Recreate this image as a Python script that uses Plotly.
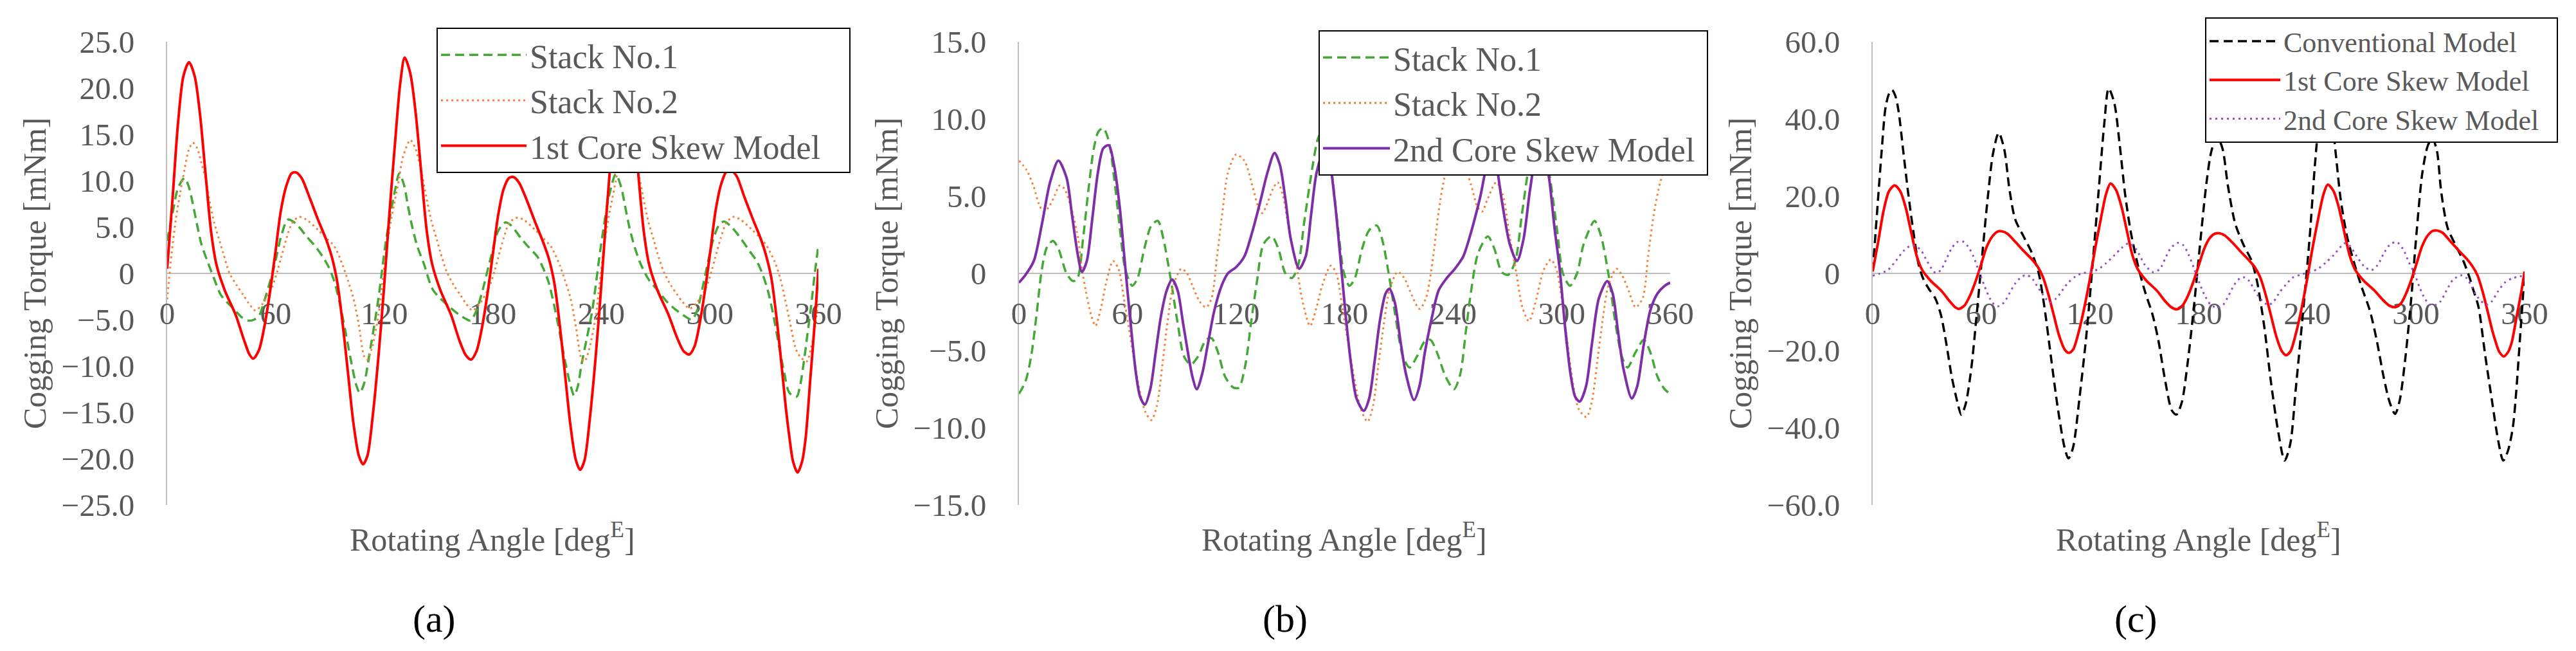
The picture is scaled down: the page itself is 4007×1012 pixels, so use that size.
import plotly.graph_objects as go

# ---------------- data ----------------
x_tickvals = [0, 60, 120, 180, 240, 300, 360]
x_ticktext = ["0", "60", "120", "180", "240", "300", "360"]

ya_tickvals = [-25, -20, -15, -10, -5, 0, 5, 10, 15, 20, 25]
ya_ticktext = ["\u221225.0", "\u221220.0", "\u221215.0", "\u221210.0", "\u22125.0", "0",
               "5.0", "10.0", "15.0", "20.0", "25.0"]
yb_tickvals = [-15, -10, -5, 0, 5, 10, 15]
yb_ticktext = ["\u221215.0", "\u221210.0", "\u22125.0", "0", "5.0", "10.0", "15.0"]
yc_tickvals = [-60, -40, -20, 0, 20, 40, 60]
yc_ticktext = ["\u221260.0", "\u221240.0", "\u221220.0", "0", "20.0", "40.0", "60.0"]

# (angle [degE], torque [mNm]) pairs
stack1_a = [(0,3.5),(3,6.5),(6,9.2),(9.6,10.3),(11.9,9.4),(14.2,7.5),(16.6,5.2),(19,3.1),(22.5,1.2),(26,-0.6),
            (29.6,-2.3),(33,-3.1),(36.7,-3.8),(41,-4.7),(45,-5.1),(48,-5.0),(51,-4.5),(54,-2.8),(56,-1.5),(59.5,1.0),
            (63,4.0),(66.7,5.8),(71,5.4),(77,4.0),(82,2.9),(86,1.8),(89,0.8),(92.5,-0.9),(95.5,-3.3),(98.6,-6.3),
            (101.5,-9.3),(104.6,-12.1),(106.5,-12.9),(109,-11.8),(112,-8.5),(114.5,-5.6),(116.8,-2.7),(121,3.6),(124,7.0),(126,9.0),
            (128.3,10.8),(131,9.5),(133,7.4),(135.5,5.0),(138.5,2.8),(142,1.0),(147,-1.8),(156,-3.6),(161,-4.4),(165,-4.9),
            (167.7,-5.1),(171,-4.0),(174.4,-1.8),(179,1.8),(183,4.6),(187,5.5),(190,5.2),(195.6,3.8),(200,2.8),(204.7,1.8),
            (208,0.5),(210.8,-0.9),(214,-3.5),(216.9,-6.3),(220,-9.5),(223,-12.1),(225,-13.2),(227,-12.2),(229,-9.9),(232,-7.0),
            (235,-4.0),(239.6,2.7),(244,8.1),(248,10.7),(251,9.3),(253,7.4),(255.5,5.0),(258.5,2.8),(262,0.9),(266,-0.6),
            (271,-1.8),(276,-3.0),(281,-3.9),(286,-4.6),(290,-5.0),(293,-4.0),(295.7,-1.8),(298.5,0.8),(301.8,3.6),(305,5.2),
            (307.8,5.6),(312,5.0),(317,3.8),(322,2.4),(326,1.3),(329,0.0),(332,-1.8),(335,-4.4),(338,-7.6),(341,-10.6),
            (344,-12.9),(348,-13.3),(350,-12.0),(352,-9.5),(354,-6.5),(356,-3.5),(358,0.0),(360,3.0)]

stack2_a = [(0,-2.8),(2.4,2.0),(4.7,5.7),(7.2,8.7),(9.6,11.2),(11.9,13.3),(14.2,14.1),(16.6,13.5),(19,11.9),(21.4,10.1),
            (23.8,7.5),(26.1,5.4),(28.5,3.8),(31,2.2),(34.5,0.0),(38.5,-1.3),(42,-2.3),(45,-3.2),(48.8,-4.0),(52.7,-3.3),
            (55.5,-2.4),(58,-1.5),(61,0.3),(63,1.7),(66,3.8),(69,5.4),(72.8,6.1),(77,5.8),(83.4,4.7),(88,3.8),
            (92.5,2.9),(97,0.9),(100,-0.8),(103,-2.7),(106,-5.6),(109,-9.0),(110.7,-9.3),(113,-8.2),(116.8,-4.5),(119,-1.0),
            (121.3,2.7),(124,6.0),(126,8.0),(128,10.0),(130.4,12.6),(134.4,14.4),(137,13.6),(140,11.5),(143,8.5),(146,5.7),
            (149,3.7),(151,2.3),(154.5,0.2),(158.5,-1.3),(162,-2.3),(165,-3.2),(168.8,-4.0),(172.7,-3.3),(178,-1.5),(181,0.3),
            (183,1.7),(186,3.8),(189,5.4),(192.8,6.0),(197,5.8),(203.4,4.7),(208,3.8),(212.5,2.8),(217,0.9),(220,-0.8),
            (223,-2.7),(226,-5.8),(229,-9.2),(230.7,-9.5),(233,-8.4),(236.8,-4.8),(239,-1.2),(241.3,2.6),(244,6.0),(246,8.0),
            (248,10.0),(250.4,12.5),(254.4,14.3),(257,13.5),(260,11.4),(263,8.4),(266,5.6),(269,3.6),(271,2.2),(274.5,0.2),
            (278.5,-1.3),(282,-2.3),(285,-3.1),(288.8,-3.8),(292.7,-3.2),(298,-1.5),(301,0.3),(303,1.7),(306,3.8),(309,5.4),
            (312.8,6.1),(317,5.8),(323.4,4.7),(328,3.8),(331,3.1),(336,1.2),(339,-0.6),(341.7,-2.9),(344,-5.0),(347.6,-8.2),
            (350,-9.0),(353.5,-9.5),(356,-8.0),(358,-6.0),(360,-3.0)]

skew1 = [(0,0.5),(3,8.1),(6,16.2),(9,21.3),(12.1,22.8),(15.2,21.3),(18.2,17.1),(21.2,10.8),(24.3,4.5),(27.3,0.9),
         (31.8,-1.8),(37.9,-4.5),(42.5,-7.2),(45.5,-8.75),(47.6,-9.2),(50.7,-8.3),(53.7,-5.8),(56.7,-2.2),(59.8,2.2),(62.8,6.7),
         (65.8,9.4),(68.8,10.8),(71.3,10.9),(74.3,10.3),(78.9,8.1),(83.4,5.8),(88,3.6),(91,1.8),(94,-0.9),(97,-5.4),
         (100,-10.8),(103,-16.2),(106,-19.7),(108.3,-20.6),(110.7,-19.7),(113.7,-15.3),(116.8,-9.0),(119.8,-1.8),(122.8,6.3),(125.9,13.9),
         (128.9,20.6),(131.3,23.3),(134.4,21.6),(137.4,17.3),(140.4,11.0),(143.5,4.6),(146.5,1.0),(151,-1.8),(157,-4.5),(161.5,-7.2),
         (165,-8.8),(168,-9.3),(171,-8.4),(174,-5.9),(177,-2.3),(180,2.0),(183,6.3),(186,9.1),(189,10.3),(191.5,10.4),
         (194.5,9.8),(199,7.8),(203.5,5.5),(208,3.3),(211,1.6),(214,-1.0),(217,-5.5),(220,-11.0),(223,-16.5),(226,-20.2),
         (228.3,-21.2),(230.7,-20.2),(233.7,-15.6),(236.8,-9.2),(239.8,-1.8),(242.8,6.3),(245.9,13.9),(248.9,20.4),(251.3,23.0),(254.4,21.4),
         (257.4,17.1),(260.4,10.8),(263.5,4.5),(266.5,0.9),(271,-1.8),(277,-4.4),(282,-7.0),(285.5,-8.4),(288.6,-8.75),(291.5,-7.9),
         (294.3,-5.5),(297.2,-2.0),(300.2,2.3),(303.2,6.8),(306.2,9.6),(309.2,11.0),(311.8,11.1),(314.8,10.5),(319,8.3),(323.5,6.0),
         (328,3.8),(331,2.0),(334,-0.5),(337,-5.0),(340,-10.6),(342,-14.5),(344,-17.7),(346,-20.3),(348.5,-21.5),(351,-20.3),
         (353,-17.7),(355.5,-11.5),(358.3,-4.5),(360,0.5)]

stack1_b = [(0,-7.8),(3.6,-7.0),(6.7,-5.4),(9.7,-2.7),(12.7,0.3),(15.5,1.7),(18.8,2.1),(21.8,1.6),(26.3,0.0),(29.9,-0.5),
            (32.4,-0.3),(35.4,2.2),(38.4,5.4),(41.4,8.1),(44,9.2),(46.6,9.4),(49.6,8.6),(52.6,6.2),(55.7,3.0),(58.7,0.3),
            (62.6,-0.8),(65.6,-0.3),(69.3,1.6),(73.2,3.1),(76.8,3.4),(79.9,2.2),(83.8,-0.3),(87.7,-3.2),(91.3,-5.4),(95,-5.9),
            (98.9,-5.4),(103.4,-4.3),(106.5,-4.2),(110,-5.1),(114,-6.7),(118.6,-7.4),(121.6,-7.4),(125.2,-5.9),(128.3,-3.2),(131.6,-0.5),
            (135.2,1.9),(139.7,2.4),(143.4,1.6),(147.3,0.0),(150.9,-0.3),(154.3,0.5),(157.9,3.5),(162.4,7.0),(165.5,8.8),(168.5,9.3),
            (171,8.4),(173.6,5.9),(176.6,2.7),(179.7,0.0),(182.7,-0.8),(185.7,-0.3),(189.7,1.6),(193.6,2.8),(197.8,3.1),(200.8,2.2),
            (204.8,-0.3),(208.7,-3.2),(212.3,-5.4),(216,-6.1),(219.9,-5.4),(224.4,-4.4),(227.4,-4.3),(231,-5.1),(235.9,-6.7),(240.5,-7.5),
            (244,-6.5),(247,-3.8),(250,-1.1),(253.8,1.3),(259.2,2.4),(262.8,1.6),(266.8,0.1),(270.4,-0.1),(274.4,0.8),(278,3.8),
            (281.9,7.0),(285,8.9),(287.5,9.3),(290,8.5),(292.5,7.0),(295,5.0),(297.6,2.7),(300.7,0.0),(304.6,-0.8),(308.5,0.0),
            (312.2,1.9),(318.2,3.4),(321.8,2.4),(325.8,0.0),(329.7,-3.2),(333.3,-5.4),(336.4,-6.1),(340.9,-5.1),(345.4,-4.3),(349,-5.1),
            (353,-6.7),(356.9,-7.5),(360,-7.8)]

stack2_b = [(0,7.3),(4.2,6.7),(8.2,5.6),(11,4.5),(13.5,4.0),(16.5,4.3),(19.6,5.0),(22.5,5.7),(25,5.5),(29.2,4.1),
            (32.8,2.2),(34.5,0.5),(36.9,-1.1),(39.9,-2.7),(42.3,-3.4),(45.4,-2.2),(48.4,-0.5),(52,0.8),(55,0.3),(58,-1.6),
            (61.1,-3.8),(64.1,-5.9),(67.1,-7.8),(70,-9.0),(73.2,-9.5),(76.2,-8.6),(79.3,-5.9),(82.3,-3.0),(85.3,-0.8),(89.8,0.3),
            (92.9,0.0),(95.9,-0.8),(99.8,-1.8),(103.4,-2.2),(106.5,-1.6),(109.5,1.1),(112.5,4.0),(115.5,6.5),(120,7.7),(124.6,7.3),
            (129,5.7),(132,4.4),(134.5,3.9),(137.5,4.6),(140.5,5.5),(143,5.9),(145.8,5.1),(149.4,2.7),(153.4,0.5),(156.4,-1.6),
            (160.9,-3.4),(164.5,-2.2),(167.6,-0.8),(172.4,0.5),(175.4,0.0),(179,-2.4),(182.1,-4.6),(185.7,-7.0),(189,-8.8),(192.7,-9.6),
            (195.7,-8.6),(198.7,-5.9),(201.8,-3.2),(204.8,-1.1),(209.3,0.1),(213,-0.3),(216,-1.1),(221.4,-2.3),(225,-1.6),(229,1.1),
            (232,4.0),(236,6.5),(241,7.5),(245.6,7.1),(250,5.7),(253.5,4.3),(256,4.0),(259,4.8),(263.8,5.9),(267.4,5.1),
            (271.3,2.4),(275,0.0),(278.3,-2.2),(281.9,-3.1),(285.5,-1.9),(290,0.2),(294,0.9),(297,0.3),(300,-1.6),(303,-4.3),
            (306.1,-7.0),(309.5,-8.8),(313.7,-9.3),(316.7,-8.3),(319.7,-5.7),(322.7,-3.0),(325.8,-0.8),(330.3,0.3),(333.3,-0.1),(337,-1.1),
            (340.9,-2.2),(344.8,-1.6),(347.8,1.1),(350.9,3.8),(354.5,5.9),(358.1,7.1),(360,7.3)]

skew2 = [(0,-0.6),(3.6,-0.1),(8.2,0.8),(12.7,3.2),(17.2,5.9),(21.8,7.3),(26.3,6.2),(29.3,3.8),(32.4,1.3),(34.8,0.1),
         (37.5,0.8),(40.5,3.5),(43.6,6.5),(46.6,8.1),(49.6,8.3),(52.6,7.0),(55.7,4.3),(58.7,0.5),(61.7,-3.2),(64.7,-6.5),
         (67,-8.0),(69.6,-8.5),(72.6,-7.5),(75.6,-5.1),(78.6,-2.7),(81.7,-1.1),(84.7,-0.4),(87.7,-1.1),(90.7,-3.2),(93.8,-5.4),
         (95.9,-6.7),(98.3,-7.5),(101.3,-6.5),(104.4,-4.6),(108,-2.4),(112,-0.8),(115.5,0.0),(120,0.4),(124.6,1.1),(129,2.7),
         (133.7,4.8),(137.3,6.5),(141.3,7.8),(144.3,7.0),(147.3,4.8),(150.3,2.2),(154.9,0.3),(158.5,1.1),(161.5,3.8),(164.5,6.5),
         (168.5,7.9),(171.5,7.3),(174.5,4.8),(177.6,1.1),(180.6,-2.7),(183.6,-5.9),(186.6,-8.1),(190.6,-8.9),(193.6,-8.1),(196.6,-5.7),
         (199.6,-3.0),(202.7,-1.3),(204.8,-1.0),(207.8,-1.9),(210.8,-4.3),(213.9,-6.5),(218.4,-8.2),(221.4,-7.3),(224.4,-5.1),(228,-3.0),
         (232,-1.1),(236.5,-0.3),(241,0.3),(245.6,1.1),(250,2.7),(254.7,4.8),(260.7,7.8),(263.8,7.0),(266.8,4.8),(271.3,1.9),
         (275.3,0.8),(278.9,2.2),(282.5,5.4),(286,7.6),(289.5,8.1),(293,6.2),(296,3.0),(299,0.2),(302,-3.6),(305,-6.6),
         (307.5,-8.0),(310,-8.3),(313.5,-7.3),(316.7,-4.6),(320.6,-1.6),(325.2,-0.5),(328.2,-1.3),(331.2,-3.8),(334.2,-6.2),(338.8,-8.1),
         (341.8,-7.3),(345.4,-4.6),(349,-2.4),(353,-1.3),(357,-0.8),(360,-0.6)]

conventional = [(0,0.5),(1.5,10),(3.2,20.8),(5,32),(7.1,43),(9,46.5),(10.7,47.5),(12.5,46),(14.3,42),(16.8,32),
                (19.6,20.8),(22.8,9.7),(25.5,2),(28,-1.5),(31,-4),(34.6,-6.5),(37.7,-10.8),(40.7,-18.3),(43.7,-26.9),(46.8,-33.4),
                (48.9,-36.6),(51.3,-33.9),(54.4,-24.8),(57.4,-10.8),(60.4,4.3),(63.5,19.4),(66.5,31.2),(69.6,36.4),(72.6,32.3),(75.6,21.5),
                (78.7,14),(83.2,9.7),(87.8,5.4),(91.7,0),(94.8,-8.6),(98.4,-21.5),(102.1,-34.5),(106,-45.2),(108.1,-47.9),(110.6,-45.2),
                (114.2,-32.3),(118.2,-15.1),(121.8,4.3),(124.8,21.5),(127.9,38.8),(130.3,47.9),(133.4,44.2),(136.4,33.4),(139.4,20.5),(142.5,10.8),
                (146.4,2.2),(150.1,-4.3),(154.6,-10.8),(157.7,-17.2),(161.6,-28),(165.2,-35.5),(167.7,-36.6),(170.7,-33.4),(173.8,-23.7),(177.4,-8.6),
                (181,8.6),(184.4,23.7),(187.1,31.8),(190.2,35.5),(193.2,32.3),(196.2,22.6),(200.2,12.9),(204.7,7.5),(209.3,3.2),(212.3,-2.2),
                (216.3,-14),(219.9,-28),(223.9,-40.9),(227.5,-48.5),(230.6,-44.2),(233.6,-30.2),(237.5,-10.8),(241.2,8.6),(244.2,28),(247,42),
                (249.5,48),(252.5,44),(255.5,32),(258.5,19),(262,9.5),(266,2.5),(270,-3.5),(274.6,-9.7),(278.3,-17.2),(282.2,-26.9),
                (285.5,-33.4),(288.5,-36.4),(291,-33),(294,-22.6),(297.4,-6.5),(300.4,10.8),(303.5,25.9),(306.5,33),(309,35),(311.5,32),
                (314,21),(317.5,11.8),(321.7,7.5),(326.2,3.2),(329.9,-1.5),(331.5,-4),(334.5,-8.6),(338.2,-21),(342,-33),(345.5,-43.5),
                (348.2,-48.5),(350.8,-46),(353.5,-40),(355.5,-30),(357,-20),(358.5,-10),(360,0)]

# ---------------- styling / layout ----------------
W, H = 4007, 1012
SERIF = "Liberation Serif, Times New Roman, serif"
TXT = "#595959"
AX = "#BFBFBF"
GREEN = "#43A935"
ORANGE = "#F5823A"
RED = "#FF0000"
PURPLE = "#7E2FA8"
PURPLE_DOT = "#9050C8"
NB = "\u00a0"   # padding so the legend frames reach the reference width


def fx(p):
    return p / W


def fy(p):
    return 1 - p / H


Y_DOM = [fy(785), fy(65)]
ZERO = fy(425)
X_DOMS = [[fx(260), fx(1273)], [fx(1585), fx(2598)], [fx(2913), fx(3927)]]

fig = go.Figure()


def add(series, name, color, dash, width, xa, ya, legend):
    fig.add_trace(go.Scatter(
        x=[p[0] for p in series], y=[p[1] for p in series], mode="lines", name=name,
        line=dict(color=color, dash=dash, width=width, shape="spline", smoothing=0.8),
        xaxis=xa, yaxis=ya, legend=legend, hoverinfo="skip"))


add(stack1_a, "Stack No.1", GREEN, "14px,8px", 3.5, "x", "y", "legend")
add(stack2_a, "Stack No.2", ORANGE, "3px,5px", 3, "x", "y", "legend")
add(skew1, "1st Core Skew Model" + NB * 3, RED, "solid", 4, "x", "y", "legend")

add(stack1_b, "Stack No.1", GREEN, "14px,8px", 3.5, "x2", "y2", "legend2")
add(stack2_b, "Stack No.2", ORANGE, "3px,5px", 3, "x2", "y2", "legend2")
add(skew2, "2nd Core Skew Model" + NB, PURPLE, "solid", 4, "x2", "y2", "legend2")

add(conventional, "Conventional Model", "#000000", "14px,8px", 3.5, "x3", "y3", "legend3")
add(skew1, "1st Core Skew Model", RED, "solid", 4, "x3", "y3", "legend3")
add(skew2, "2nd Core Skew Model" + NB * 2, PURPLE_DOT, "3px,6px", 3, "x3", "y3", "legend3")


def xaxis(dom):
    return dict(domain=dom, range=[0, 360], anchor="free", position=ZERO, automargin=False,
                showline=True, linecolor=AX, linewidth=2, showgrid=False, zeroline=False,
                ticks="", tickmode="array", tickvals=x_tickvals, ticktext=x_ticktext,
                tickfont=dict(family=SERIF, size=49, color=TXT), ticklabelstandoff=19,
                layer="below traces", fixedrange=True)


def yaxis(anchor, rng, vals, texts):
    return dict(domain=Y_DOM, range=rng, anchor=anchor, automargin=False,
                showline=True, linecolor=AX, linewidth=2, showgrid=False, zeroline=False,
                ticks="", tickmode="array", tickvals=vals, ticktext=texts,
                tickfont=dict(family=SERIF, size=49, color=TXT), ticklabelstandoff=39,
                layer="below traces", fixedrange=True)


def legend(xpx, ypx, size, itemwidth):
    return dict(x=fx(xpx), y=fy(ypx), xanchor="left", yanchor="top", bgcolor="white",
                bordercolor="black", borderwidth=2, traceorder="normal",
                font=dict(family=SERIF, size=size, color=TXT), itemwidth=itemwidth)


annotations = []
x_title = "Rotating Angle [deg<sup>E</sup>]"
y_title = "Cogging Torque [mNm]"
for xc_title, xc_yt, xc_lab, lab in [(766, 54, 675, "(a)"), (2091, 1379, 1999, "(b)"), (3420, 2707, 3322, "(c)")]:
    annotations.append(dict(x=fx(xc_title), y=fy(835), xref="paper", yref="paper", text=x_title,
                            showarrow=False, xanchor="center", yanchor="middle",
                            font=dict(family=SERIF, size=50, color=TXT)))
    annotations.append(dict(x=fx(xc_yt), y=fy(425), xref="paper", yref="paper", text=y_title,
                            showarrow=False, xanchor="center", yanchor="middle", textangle=-90,
                            font=dict(family=SERIF, size=50, color=TXT)))
    annotations.append(dict(x=fx(xc_lab), y=fy(962), xref="paper", yref="paper", text=lab,
                            showarrow=False, xanchor="center", yanchor="middle",
                            font=dict(family=SERIF, size=60, color="#000000")))

fig.update_layout(
    width=W, height=H, autosize=False,
    margin=dict(l=0, r=0, t=0, b=0, pad=0, autoexpand=False),
    paper_bgcolor="white", plot_bgcolor="white",
    xaxis=xaxis(X_DOMS[0]), xaxis2=xaxis(X_DOMS[1]), xaxis3=xaxis(X_DOMS[2]),
    yaxis=yaxis("x", [-25, 25], ya_tickvals, ya_ticktext),
    yaxis2=yaxis("x2", [-15, 15], yb_tickvals, yb_ticktext),
    yaxis3=yaxis("x3", [-60, 60], yc_tickvals, yc_ticktext),
    legend=legend(679, 43, 52, 133),
    legend2=legend(2051, 47, 52, 104),
    legend3=legend(3430, 27, 44, 110),
    annotations=annotations,
    showlegend=True,
)

fig.write_html("out.html", config={"displayModeBar": False},
               post_script="document.body.style.margin='0px';")
